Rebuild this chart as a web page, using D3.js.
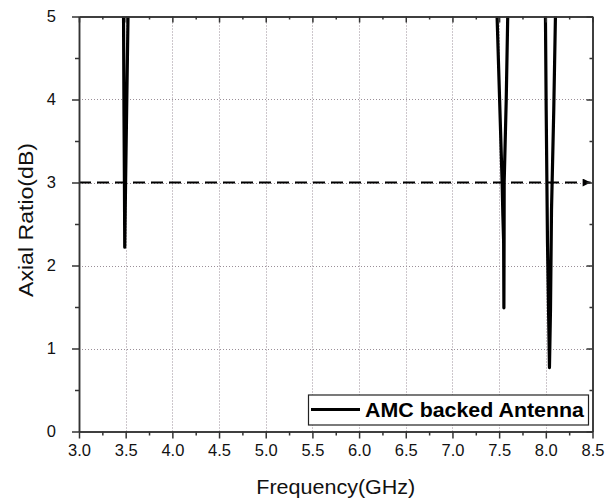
<!DOCTYPE html>
<html>
<head>
<meta charset="utf-8">
<script src="https://cdn.jsdelivr.net/npm/d3@7"></script>
<style>
  html, body { margin: 0; padding: 0; background: #fff; }
  svg { display: block; font-family: Arial, "Liberation Sans", sans-serif; }
</style>
</head>
<body>
<svg id="chart" width="605" height="498"></svg>
<script>
// Axial ratio of the AMC backed antenna (GHz, dB); values above 5 dB fall outside the plot window
const frequency = [
  3.470, 3.477, 3.482, 3.487, 3.490, 3.499, 3.512, 3.525, 3.532,
  7.470, 7.478, 7.505, 7.532, 7.540, 7.548, 7.551, 7.553, 7.554, 7.576, 7.592, 7.600,
  7.990, 7.996, 8.004, 8.018, 8.039, 8.050, 8.061, 8.085, 8.103, 8.110
];
const axialRatio = [
  6.0, 5.0, 3.8, 2.9, 2.22, 3.0, 4.0, 5.0, 6.0,
  6.0, 5.0, 4.0, 3.0, 2.6, 2.3, 1.49, 2.3, 3.0, 4.0, 5.0, 6.0,
  6.0, 5.0, 3.87, 2.27, 0.77, 1.46, 2.67, 3.87, 5.0, 6.0
];
const seriesName = "AMC backed Antenna";
const thresholdDb = 3;

const xTickValues = [3.0, 3.5, 4.0, 4.5, 5.0, 5.5, 6.0, 6.5, 7.0, 7.5, 8.0, 8.5];
const xMinorValues = [3.25, 3.75, 4.25, 4.75, 5.25, 5.75, 6.25, 6.75, 7.25, 7.75, 8.25];
const yTickValues = [0, 1, 2, 3, 4, 5];
const yMinorValues = [0.5, 1.5, 2.5, 3.5, 4.5];

const svg = d3.select("#chart");
const plotLeft = 79, plotRight = 592.5, plotTop = 16.5, plotBottom = 431.5;

const x = d3.scaleLinear().domain([3.0, 8.5]).range([plotLeft, plotRight]);
const y = d3.scaleLinear().domain([0, 5]).range([plotBottom, plotTop]);

const axisColor = "#333";

// grid
const grid = svg.append("g").attr("stroke", "#9a8f98").attr("stroke-width", 1)
  .attr("stroke-dasharray", "1,2");
grid.selectAll("line.gx").data(xTickValues.slice(1, -1)).join("line")
  .attr("x1", d => Math.round(x(d)) + 0.5).attr("x2", d => Math.round(x(d)) + 0.5)
  .attr("y1", plotTop).attr("y2", plotBottom);
grid.selectAll("line.gy").data(yTickValues.slice(1, -1)).join("line")
  .attr("y1", d => Math.round(y(d)) + 0.5).attr("y2", d => Math.round(y(d)) + 0.5)
  .attr("x1", plotLeft).attr("x2", plotRight);

// 3 dB reference line
const defs = svg.append("defs");
defs.append("marker")
  .attr("id", "arrow").attr("viewBox", "0 0 10 10").attr("refX", 10).attr("refY", 5)
  .attr("markerWidth", 13).attr("markerHeight", 8).attr("markerUnits", "userSpaceOnUse")
  .attr("orient", "auto")
  .append("path").attr("d", "M0,0 L10,5 L0,10 Z").attr("fill", "#000");
svg.append("line")
  .attr("x1", x(3.0)).attr("x2", x(8.48))
  .attr("y1", y(thresholdDb)).attr("y2", y(thresholdDb))
  .attr("stroke", "#000").attr("stroke-width", 2.2)
  .attr("stroke-dasharray", "12,6")
  .attr("marker-end", "url(#arrow)");

// curve
defs.append("clipPath").attr("id", "plot-clip")
  .append("rect").attr("x", plotLeft).attr("y", plotTop)
  .attr("width", plotRight - plotLeft).attr("height", plotBottom - plotTop);

const points = frequency.map((f, i) => [f, axialRatio[i]]);
const line = d3.line().x(d => x(d[0])).y(d => y(d[1]));
svg.append("path")
  .datum(points)
  .attr("clip-path", "url(#plot-clip)")
  .attr("d", line)
  .attr("fill", "none")
  .attr("stroke", "#000")
  .attr("stroke-width", 3.2)
  .attr("stroke-linejoin", "round");

// axes
const fmt = d3.format(".1f");
svg.append("g").attr("transform", `translate(0,${plotBottom})`)
  .call(d3.axisBottom(x).tickValues(xTickValues).tickFormat(fmt).tickSizeInner(7).tickSizeOuter(0).tickPadding(6));
svg.append("g").attr("transform", `translate(0,${plotBottom})`)
  .call(d3.axisBottom(x).tickValues(xMinorValues).tickFormat("").tickSizeInner(4).tickSizeOuter(0));
svg.append("g").attr("transform", `translate(${plotLeft},0)`)
  .call(d3.axisLeft(y).tickValues(yTickValues).tickFormat(d3.format("d")).tickSizeInner(7).tickSizeOuter(0).tickPadding(16));
svg.append("g").attr("transform", `translate(${plotLeft},0)`)
  .call(d3.axisLeft(y).tickValues(yMinorValues).tickFormat("").tickSizeInner(4).tickSizeOuter(0));
svg.append("g").attr("transform", `translate(0,${plotTop})`)
  .call(d3.axisTop(x).tickValues(xTickValues).tickFormat("").tickSizeInner(-6).tickSizeOuter(0));
svg.append("g").attr("transform", `translate(0,${plotTop})`)
  .call(d3.axisTop(x).tickValues(xMinorValues).tickFormat("").tickSizeInner(-3).tickSizeOuter(0));
svg.append("g").attr("transform", `translate(${plotRight},0)`)
  .call(d3.axisRight(y).tickValues(yTickValues).tickFormat("").tickSizeInner(-6).tickSizeOuter(0));
svg.append("g").attr("transform", `translate(${plotRight},0)`)
  .call(d3.axisRight(y).tickValues(yMinorValues).tickFormat("").tickSizeInner(-3).tickSizeOuter(0));

svg.selectAll(".domain").attr("stroke", axisColor).attr("stroke-width", 1.5);
svg.selectAll(".tick line").attr("stroke", axisColor).attr("stroke-width", 1.5);
svg.selectAll(".tick text").attr("font-size", 16.5).attr("fill", "#111")
  .attr("font-family", "Arial, 'Liberation Sans', sans-serif");

// axis titles
svg.append("text")
  .attr("x", (plotLeft + plotRight) / 2).attr("y", 494)
  .attr("text-anchor", "middle").attr("font-size", 20.5).attr("fill", "#111")
  .attr("textLength", 159).attr("lengthAdjust", "spacingAndGlyphs")
  .text("Frequency(GHz)");
svg.append("text")
  .attr("transform", `translate(33,${(plotTop + plotBottom) / 2 - 4}) rotate(-90)`)
  .attr("text-anchor", "middle").attr("font-size", 20.5).attr("fill", "#111")
  .attr("textLength", 154).attr("lengthAdjust", "spacingAndGlyphs")
  .text("Axial Ratio(dB)");

// legend
const lg = svg.append("g");
lg.append("rect").attr("x", 308.5).attr("y", 395).attr("width", 280).attr("height", 30)
  .attr("fill", "#fff").attr("stroke", "#222").attr("stroke-width", 1.2);
lg.append("line").attr("x1", 311).attr("x2", 360).attr("y1", 409.5).attr("y2", 409.5)
  .attr("stroke", "#000").attr("stroke-width", 3);
lg.append("text").attr("x", 365).attr("y", 417)
  .attr("font-size", 19.5).attr("font-weight", "bold").attr("fill", "#000")
  .attr("textLength", 219).attr("lengthAdjust", "spacingAndGlyphs")
  .text(seriesName);
</script>
</body>
</html>
